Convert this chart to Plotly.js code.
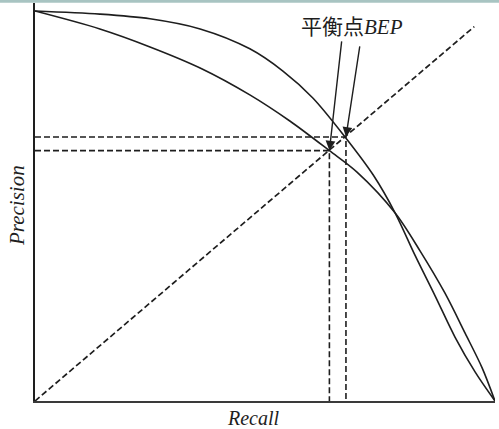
<!DOCTYPE html>
<html>
<head>
<meta charset="utf-8">
<script src="https://cdn.plot.ly/plotly-3.0.1.min.js"></script>
<style>html,body{margin:0;padding:0;background:#fff;}#chart{width:499px;height:429px;}</style>
</head>
<body>
<div id="chart"></div>
<script>
// Curve A (outer at first, inner near the end)
const recallA    = [0, 0.141, 0.25, 0.359, 0.467, 0.539, 0.604, 0.674, 0.735, 0.783, 0.826, 0.870, 0.913, 0.957, 1];
const precisionA = [1, 0.992, 0.980, 0.954, 0.903, 0.846, 0.777, 0.677, 0.580, 0.482, 0.374, 0.269, 0.164, 0.074, 0];
// Curve B (inner at first, outer near the end)
const recallB    = [0, 0.141, 0.25, 0.359, 0.467, 0.554, 0.640, 0.700, 0.783, 0.837, 0.891, 0.935, 0.972, 1];
const precisionB = [1, 0.954, 0.908, 0.854, 0.785, 0.718, 0.642, 0.587, 0.482, 0.385, 0.277, 0.174, 0.085, 0];
// Break-even line P = R
const diagRecall    = [0, 0.955];
const diagPrecision = [0, 0.96];
// Break-even points
const bepRecall    = [0.640, 0.676];
const bepPrecision = [0.642, 0.677];
// Arrow tails (label side)
const arrowTailRecall    = [0.667, 0.7065];
const arrowTailPrecision = [0.926, 0.913];
const bepLabel = '平衡点<i>BEP</i>';
const xLabel = 'Recall';
const yLabel = 'Precision';

const serif = 'Liberation Serif, DejaVu Serif, Noto Sans CJK SC, serif';
const ink = '#1e1e1e';

const traces = [
  {x: recallA, y: precisionA, mode: 'lines', line: {color: ink, width: 1.6, shape: 'spline', smoothing: 0.9}, hoverinfo: 'skip'},
  {x: recallB, y: precisionB, mode: 'lines', line: {color: ink, width: 1.6, shape: 'spline', smoothing: 0.9}, hoverinfo: 'skip'},
  {x: diagRecall, y: diagPrecision, mode: 'lines', line: {color: ink, width: 1.7, dash: '6px,3px'}, hoverinfo: 'skip'}
];
bepRecall.forEach((r, i) => {
  traces.push({x: [0, r, r], y: [bepPrecision[i], bepPrecision[i], 0], mode: 'lines',
    line: {color: ink, width: 1.6, dash: '6px,3px'}, hoverinfo: 'skip'});
});

const annotations = [];
bepRecall.forEach((r, i) => {
  annotations.push({x: r, y: bepPrecision[i], xref: 'x', yref: 'y',
    ax: arrowTailRecall[i], ay: arrowTailPrecision[i], axref: 'x', ayref: 'y',
    text: '', showarrow: true, arrowhead: 2, arrowsize: 1.4, arrowwidth: 1.4, arrowcolor: ink});
});
annotations.push({x: 0.69, y: 0.958, xref: 'x', yref: 'y', text: bepLabel, showarrow: false,
  xanchor: 'center', yanchor: 'middle', font: {family: serif, size: 21, color: ink}});
annotations.push({x: 0.476, y: -0.043, xref: 'paper', yref: 'paper', text: '<i>' + xLabel + '</i>', showarrow: false,
  xanchor: 'center', yanchor: 'middle', font: {family: serif, size: 20, color: ink}});
annotations.push({x: -0.039, y: 0.49, xref: 'paper', yref: 'paper', text: '<i>' + yLabel + '</i>', showarrow: false,
  textangle: -90, xanchor: 'center', yanchor: 'middle', font: {family: serif, size: 21, color: ink}});

const layout = {
  width: 499, height: 429,
  margin: {l: 35, r: 4, t: 3, b: 28, pad: 0},
  paper_bgcolor: '#fff', plot_bgcolor: '#fff',
  showlegend: false,
  xaxis: {range: [0, 1], showgrid: false, zeroline: false, showticklabels: false, ticks: '',
    showline: true, linecolor: '#3a3a3a', linewidth: 2, fixedrange: true},
  yaxis: {range: [0, 1.0205], showgrid: false, zeroline: false, showticklabels: false, ticks: '',
    showline: true, linecolor: '#1e1e1e', linewidth: 2, fixedrange: true},
  annotations: annotations,
  shapes: [{type: 'rect', xref: 'paper', yref: 'paper', x0: -0.08, x1: 1.01, y0: 1.0005, y1: 1.01,
    fillcolor: '#a8c4c2', line: {width: 0}, layer: 'below'}]
};

Plotly.newPlot('chart', traces, layout, {displayModeBar: false, staticPlot: true});
</script>
</body>
</html>
